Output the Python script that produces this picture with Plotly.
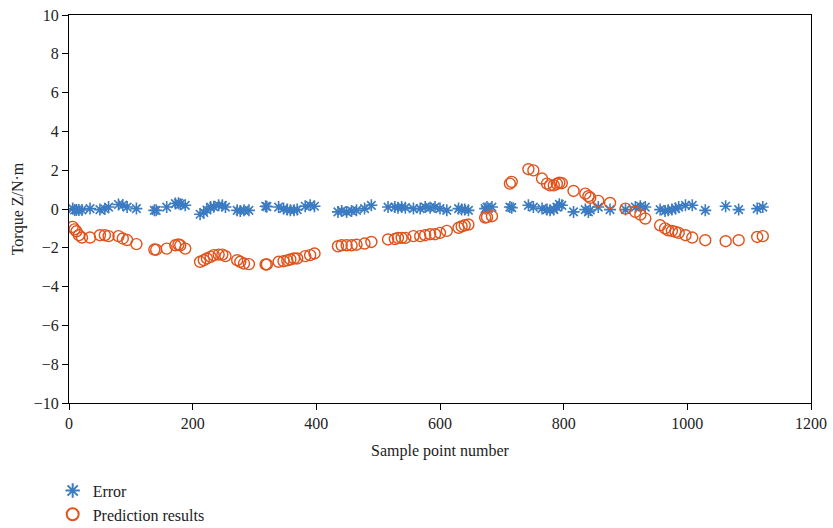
import plotly.graph_objects as go

sample_x = [6, 9, 12, 16, 21, 34, 50, 58, 64, 80, 87, 94, 109,
            138, 141, 158, 172, 177, 180, 188,
            212, 218, 223, 229, 234, 242, 248, 253, 272, 277, 283, 291, 318, 320,
            339, 347, 353, 358, 364, 369, 382, 390, 397,
            435, 441, 449, 457, 465, 478, 489, 516, 527, 532, 538, 544, 557, 568,
            576, 584, 592, 600, 611, 630, 635, 640, 646, 673, 676, 684,
            713, 716, 743, 751, 765, 773, 778, 784, 789, 793, 797,
            816, 835, 840, 843, 856, 875, 900, 916, 924, 932, 956, 964, 969, 975,
            981, 986, 997, 1008, 1029, 1062, 1083, 1113, 1122]

error_vals = [0.02, -0.05, -0.05, -0.05, -0.05, 0.02, -0.03, 0.0, 0.10, 0.23, 0.20, 0.10, 0.02,
              -0.07, -0.07, 0.10, 0.28, 0.30, 0.25, 0.19,
              -0.27, -0.18, -0.05, 0.10, 0.12, 0.19, 0.19, 0.10, -0.07, -0.10, -0.07, -0.07, 0.14, 0.12,
              0.10, 0.02, -0.03, -0.07, -0.07, -0.03, 0.14, 0.19, 0.14,
              -0.15, -0.10, -0.15, -0.10, -0.07, 0.02, 0.19, 0.10, 0.10, 0.07, 0.10, 0.07, 0.02, 0.02,
              0.10, 0.07, 0.10, 0.02, -0.07, 0.02, -0.03, -0.03, -0.07, 0.02, 0.10, 0.10,
              0.10, 0.07, 0.19, 0.10, 0.02, -0.03, -0.07, -0.03, 0.10, 0.24, 0.19,
              -0.15, -0.03, -0.15, -0.05, 0.10, -0.03, -0.03, 0.10, 0.14, 0.10, -0.03, -0.10, -0.07, -0.03,
              0.02, 0.10, 0.19, 0.19, -0.07, 0.14, -0.03, 0.02, 0.10]

prediction_vals = [-0.92, -1.05, -1.15, -1.35, -1.47, -1.47, -1.35, -1.35, -1.40, -1.40, -1.52, -1.60, -1.81,
                   -2.09, -2.10, -2.04, -1.87, -1.83, -1.87, -2.04,
                   -2.72, -2.64, -2.55, -2.47, -2.38, -2.35, -2.35, -2.43, -2.64, -2.72, -2.81, -2.84, -2.86, -2.86,
                   -2.72, -2.69, -2.65, -2.60, -2.55, -2.55, -2.43, -2.38, -2.29,
                   -1.92, -1.87, -1.87, -1.87, -1.84, -1.78, -1.70, -1.57, -1.55, -1.49, -1.49, -1.49, -1.40, -1.40,
                   -1.35, -1.30, -1.30, -1.23, -1.13, -0.97, -0.90, -0.84, -0.80, -0.44, -0.42, -0.37,
                   1.31, 1.40, 2.05, 1.99, 1.57, 1.31, 1.22, 1.22, 1.30, 1.35, 1.33,
                   0.93, 0.79, 0.66, 0.58, 0.42, 0.31, 0.02, -0.15, -0.29, -0.49, -0.84, -1.00, -1.10, -1.13,
                   -1.18, -1.23, -1.35, -1.47, -1.61, -1.66, -1.61, -1.44, -1.40]

x_ticks = [0, 200, 400, 600, 800, 1000, 1200]
y_ticks = [10, 8, 6, 4, 2, 0, -2, -4, -6, -8, -10]

FONT = "Liberation Serif, DejaVu Serif, serif"
TXT = "#222222"

fig = go.Figure()
fig.add_trace(go.Scatter(
    x=sample_x, y=error_vals, mode="markers", name="Error",
    marker=dict(symbol="asterisk-open", size=10, color="#3b7bc2",
                line=dict(color="#3b7bc2", width=1.6)),
))
fig.add_trace(go.Scatter(
    x=sample_x, y=prediction_vals, mode="markers", name="Prediction results",
    marker=dict(symbol="circle-open", size=11, color="#e0531b",
                line=dict(color="#e0531b", width=1.4)),
))

axis_common = dict(showline=True, linecolor="black", linewidth=1.2, mirror=True,
                   ticks="outside", ticklen=6, tickcolor="black", tickwidth=1,
                   showgrid=False, zeroline=False,
                   tickfont=dict(family=FONT, size=16, color=TXT))

fig.update_xaxes(range=[0, 1200], tickvals=x_ticks,
                 title=dict(text="Sample point number", font=dict(family=FONT, size=16, color=TXT), standoff=13),
                 **axis_common)
fig.update_yaxes(range=[-10, 10], tickvals=y_ticks,
                 title=dict(text="Torque Z/N·m", font=dict(family=FONT, size=16, color=TXT), standoff=6),
                 **axis_common)

fig.update_layout(
    width=833, height=528,
    margin=dict(l=69, r=22, t=15, b=125, autoexpand=False),
    plot_bgcolor="white", paper_bgcolor="white",
    font=dict(family=FONT, size=16, color=TXT),
    legend=dict(x=-0.022, y=-0.182, xanchor="left", yanchor="top", orientation="v",
                font=dict(family=FONT, size=16, color=TXT), tracegroupgap=0,
                itemsizing="constant", bgcolor="rgba(0,0,0,0)"),
)

fig.write_html("out.html")
